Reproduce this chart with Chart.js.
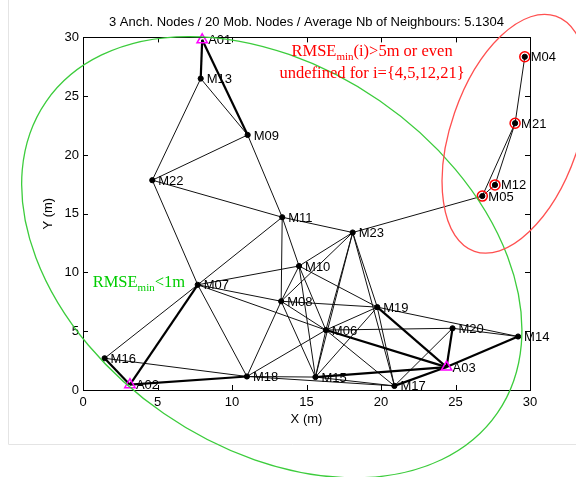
<!DOCTYPE html>
<html>
<head>
<meta charset="utf-8">
<script src="https://cdn.jsdelivr.net/npm/chart.js@4.4.0/dist/chart.umd.min.js"></script>
<style>
  html, body { margin: 0; padding: 0; background: #fff; }
  #wrap { width: 576px; height: 477px; }
</style>
</head>
<body>
<div id="wrap"><canvas id="netChart" width="576" height="477"></canvas></div>
<script>
// node positions in metres
const nodeNames = ['A01', 'A02', 'A03', 'M04', 'M05', 'M06', 'M07', 'M08', 'M09', 'M10', 'M11', 'M12',
                   'M13', 'M14', 'M15', 'M16', 'M17', 'M18', 'M19', 'M20', 'M21', 'M22', 'M23'];
const nodeX = [8.0, 3.15, 24.4, 29.65, 26.8, 16.3, 7.7, 13.3, 11.05, 14.5, 13.37, 27.65,
               7.9, 29.2, 15.6, 1.45, 20.9, 11.0, 19.75, 24.8, 29.0, 4.65, 18.1];
const nodeY = [29.8, 0.45, 1.95, 28.35, 16.5, 5.1, 8.95, 7.55, 21.7, 10.55, 14.7, 17.45,
               26.5, 4.55, 1.1, 2.7, 0.35, 1.15, 7.05, 5.25, 22.7, 17.85, 13.4];

const anchorNames = ['A01', 'A02', 'A03'];
const badNodes = ['M04', 'M05', 'M12', 'M21'];

// links between an anchor and a mobile node (thick)
const anchorLinks = [
    ['A01', 'M13'], ['A01', 'M09'], ['A02', 'M07'], ['A02', 'M16'], ['A02', 'M18'],
    ['A03', 'M06'], ['A03', 'M19'], ['A03', 'M20'], ['A03', 'M14'], ['A03', 'M15'], ['A03', 'M17']
];
// links between mobile nodes (thin)
const mobileLinks = [
    ['M13', 'M09'], ['M13', 'M22'], ['M22', 'M09'], ['M22', 'M11'], ['M22', 'M07'], ['M09', 'M11'],
    ['M11', 'M10'], ['M11', 'M08'], ['M11', 'M07'], ['M11', 'M23'],
    ['M23', 'M05'], ['M05', 'M21'], ['M05', 'M12'], ['M12', 'M21'], ['M21', 'M04'],
    ['M23', 'M10'], ['M23', 'M08'], ['M23', 'M19'], ['M23', 'M15'], ['M23', 'M17'], ['M23', 'M06'],
    ['M10', 'M07'], ['M10', 'M08'], ['M10', 'M19'], ['M10', 'M06'], ['M10', 'M15'],
    ['M07', 'M08'], ['M07', 'M06'], ['M07', 'M18'], ['M07', 'M16'],
    ['M08', 'M19'], ['M08', 'M18'], ['M08', 'M15'], ['M08', 'M06'],
    ['M19', 'M06'], ['M19', 'M14'], ['M19', 'M15'], ['M19', 'M17'],
    ['M06', 'M20'], ['M06', 'M17'], ['M06', 'M15'], ['M06', 'M18'],
    ['M20', 'M17'], ['M20', 'M14'],
    ['M16', 'M18'], ['M18', 'M15'], ['M18', 'M17'], ['M15', 'M17']
];

const tickValues = [0, 5, 10, 15, 20, 25, 30];
const chartTitle = '3 Anch. Nodes / 20 Mob. Nodes / Average Nb of Neighbours: 5.1304';

// annotation ellipses: centre in metres, semi-axes in x-metres, angle in degrees (screen)
const ellipses = [
    { cx: 12.67, cy: 11.3, a: 18.4, b: 12.75, angle: 34.6, color: '#3ccc3c' },
    { cx: 29.0, cy: 21.8, a: 8.35, b: 4.3, angle: -70.9, color: '#ff5050' }
];

const pointOf = name => {
    const i = nodeNames.indexOf(name);
    return { x: nodeX[i], y: nodeY[i] };
};

function linkDataset(pair, width) {
    return {
        data: [pointOf(pair[0]), pointOf(pair[1])],
        showLine: true,
        borderColor: width > 1 ? '#000' : '#111',
        borderWidth: width,
        pointRadius: 0,
        order: 10
    };
}

const mobileNames = nodeNames.filter(n => anchorNames.indexOf(n) < 0);

const datasets = [
    {
        data: mobileNames.map(pointOf),
        pointStyle: 'circle', pointRadius: 2.6,
        backgroundColor: '#000', borderColor: '#000', borderWidth: 1,
        showLine: false, order: 0, clip: false
    },
    {
        data: badNodes.map(pointOf),
        pointStyle: 'circle', pointRadius: 5,
        backgroundColor: 'rgba(0,0,0,0)', borderColor: '#ff0000', borderWidth: 1.5,
        showLine: false, order: 1, clip: false
    },
    {
        data: anchorNames.map(pointOf),
        pointStyle: 'triangle', pointRadius: 6,
        backgroundColor: 'rgba(0,0,0,0)', borderColor: '#ff00ff', borderWidth: 1.5,
        showLine: false, order: 0, clip: false
    }
];
anchorLinks.forEach(p => datasets.push(linkDataset(p, 2.2)));
mobileLinks.forEach(p => datasets.push(linkDataset(p, 1)));

// box with inward ticks on all four sides, plus the title over the plot
const framePlugin = {
    id: 'frame',
    afterDatasetsDraw(chart) {
        const { ctx, chartArea: a, scales: { x, y } } = chart;
        ctx.save();
        ctx.strokeStyle = '#000';
        ctx.lineWidth = 1;
        ctx.strokeRect(Math.round(a.left) + 0.5, Math.round(a.top) + 0.5,
                       Math.round(a.right - a.left), Math.round(a.bottom - a.top));
        ctx.beginPath();
        tickValues.forEach(v => {
            const px = Math.round(x.getPixelForValue(v)) + 0.5;
            ctx.moveTo(px, a.bottom); ctx.lineTo(px, a.bottom - 5);
            ctx.moveTo(px, a.top); ctx.lineTo(px, a.top + 5);
            const py = Math.round(y.getPixelForValue(v)) + 0.5;
            ctx.moveTo(a.left, py); ctx.lineTo(a.left + 5, py);
            ctx.moveTo(a.right, py); ctx.lineTo(a.right - 5, py);
        });
        ctx.stroke();

        ctx.fillStyle = '#000';
        ctx.font = '13px "Liberation Sans", Arial, sans-serif';
        ctx.textAlign = 'center';
        ctx.textBaseline = 'middle';
        ctx.fillText(chartTitle, (a.left + a.right) / 2, 22);
        ctx.restore();
    }
};

const labelPlugin = {
    id: 'nodeLabels',
    afterDatasetsDraw(chart) {
        const { ctx, scales: { x, y } } = chart;
        ctx.save();
        ctx.font = '13px "Liberation Sans", Arial, sans-serif';
        ctx.fillStyle = '#000';
        ctx.textBaseline = 'middle';
        ctx.textAlign = 'left';
        nodeNames.forEach((name, i) => {
            ctx.fillText(name, x.getPixelForValue(nodeX[i]) + 6, y.getPixelForValue(nodeY[i]) + 1);
        });
        ctx.restore();
    }
};

// text with a "min" subscript after RMSE
const bigFont = '16.5px "Liberation Serif", "Times New Roman", serif';
const smallFont = '11px "Liberation Serif", "Times New Roman", serif';

function drawRmse(ctx, rest, left, baseline) {
    ctx.font = bigFont;
    ctx.fillText('RMSE', left, baseline);
    let pos = left + ctx.measureText('RMSE').width;
    ctx.font = smallFont;
    ctx.fillText('min', pos, baseline + 4);
    pos += ctx.measureText('min').width;
    ctx.font = bigFont;
    ctx.fillText(rest, pos, baseline);
}

function rmseWidth(ctx, rest) {
    ctx.font = bigFont;
    let w = ctx.measureText('RMSE').width + ctx.measureText(rest).width;
    ctx.font = smallFont;
    return w + ctx.measureText('min').width;
}

const annotationPlugin = {
    id: 'annotations',
    afterDraw(chart) {
        const { ctx, scales: { x, y } } = chart;
        const unit = x.getPixelForValue(1) - x.getPixelForValue(0);
        ctx.save();
        // faint figure border
        ctx.strokeStyle = '#e4e4e4';
        ctx.lineWidth = 1;
        ctx.beginPath();
        ctx.moveTo(8.5, 0); ctx.lineTo(8.5, 444.5); ctx.lineTo(576, 444.5);
        ctx.stroke();

        ellipses.forEach(e => {
            ctx.beginPath();
            ctx.strokeStyle = e.color;
            ctx.lineWidth = 1.3;
            ctx.ellipse(x.getPixelForValue(e.cx), y.getPixelForValue(e.cy),
                        e.a * unit, e.b * unit, e.angle * Math.PI / 180, 0, Math.PI * 2);
            ctx.stroke();
        });

        ctx.textBaseline = 'alphabetic';
        ctx.textAlign = 'left';
        ctx.fillStyle = '#ff0000';
        const cx = x.getPixelForValue(19.4);
        const w1 = rmseWidth(ctx, '(i)>5m or even');
        drawRmse(ctx, '(i)>5m or even', cx - w1 / 2, y.getPixelForValue(28.4));
        ctx.font = bigFont;
        ctx.textAlign = 'center';
        ctx.fillText('undefined for i={4,5,12,21}', cx, y.getPixelForValue(26.55));

        ctx.textAlign = 'left';
        ctx.fillStyle = '#00cc00';
        drawRmse(ctx, '<1m', x.getPixelForValue(0.65), y.getPixelForValue(8.75));
        ctx.restore();
    }
};

const tickFont = { family: '"Liberation Sans", Arial, sans-serif', size: 13 };

const config = {
    type: 'scatter',
    data: { datasets: datasets },
    options: {
        responsive: false,
        animation: false,
        events: [],
        layout: { padding: { left: 0, right: 46, top: 37.4, bottom: 0 } },
        plugins: {
            legend: { display: false },
            tooltip: { enabled: false },
            title: { display: false }
        },
        scales: {
            x: {
                type: 'linear',
                min: 0, max: 30,
                grid: { display: false, drawTicks: false },
                border: { display: false },
                ticks: { stepSize: 5, color: '#000', font: tickFont, padding: 5, maxRotation: 0 },
                title: {
                    display: true, text: 'X (m)', color: '#000', font: tickFont,
                    padding: { top: 0, bottom: 50 }
                },
                afterFit(scale) { scale.height = 87; }
            },
            y: {
                type: 'linear',
                min: 0, max: 30,
                grid: { display: false, drawTicks: false },
                border: { display: false },
                ticks: { stepSize: 5, color: '#000', font: tickFont, padding: 4 },
                title: {
                    display: true, text: 'Y (m)', color: '#000', font: tickFont,
                    padding: { top: 40.5, bottom: 0 }
                },
                afterFit(scale) { scale.width = 83; }
            }
        }
    },
    plugins: [framePlugin, labelPlugin, annotationPlugin]
};

const ctx = document.getElementById('netChart').getContext('2d');
const netChart = new Chart(ctx, config);
</script>
</body>
</html>
